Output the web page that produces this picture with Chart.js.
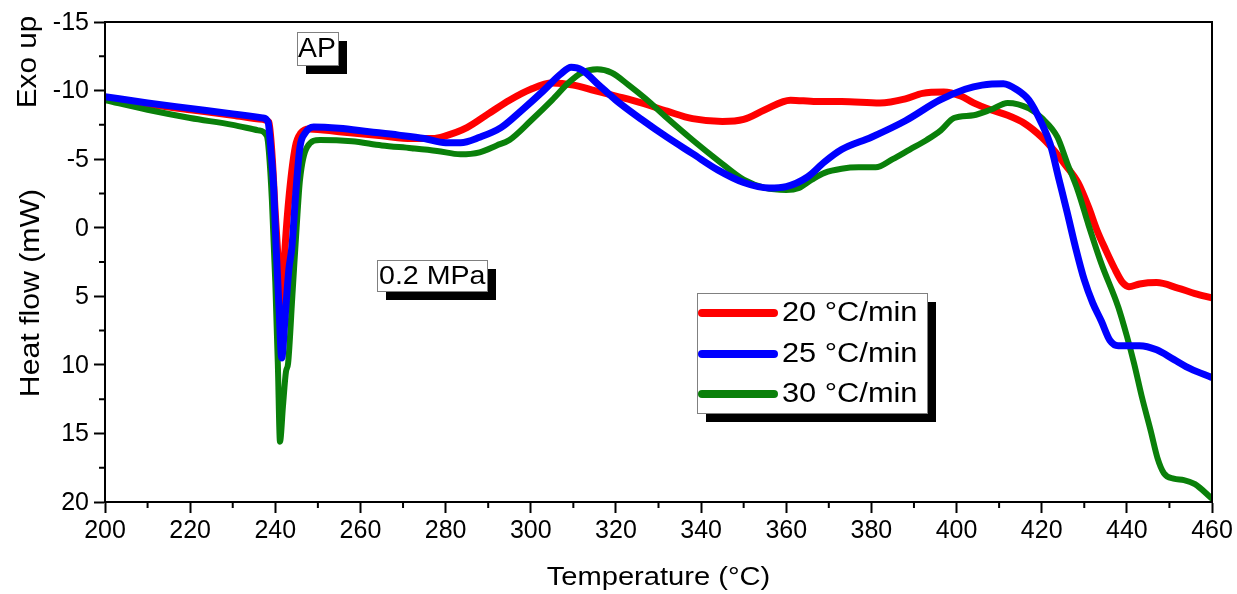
<!DOCTYPE html>
<html>
<head>
<meta charset="utf-8">
<script src="https://cdn.jsdelivr.net/npm/chart.js@4/dist/chart.umd.min.js"></script>
<style>
  body { margin: 0; background: #fff; }
  #wrap { width: 1237px; height: 594px; }
</style>
</head>
<body>
<div id="wrap"><canvas id="dsc" width="1237" height="594"></canvas></div>
<script>
// heating rates
const rateLabels = ["20 \u00b0C/min", "25 \u00b0C/min", "30 \u00b0C/min"];
const rateColors = ["#ff0000", "#0000ff", "#0a800a"];

// 20 C/min
const temp20 = [200, 210, 220, 230, 237, 238.5, 239.3, 240, 240.8, 241.5, 242.3, 243.3, 244.7, 246, 248, 255, 265, 272, 277, 280, 285, 290, 295, 300, 305, 310, 315, 320, 326, 332, 338, 345, 350, 355, 361, 367, 373, 382, 388, 392, 397, 401, 404, 408, 412, 416, 420, 423, 425.5, 428.5, 431, 433, 435, 437, 439, 440.5, 443, 447, 452, 456, 459.8];
const heat20 = [-9.5, -9.0, -8.6, -8.2, -7.9, -7.7, -5, -1, 3, 6, 1.4, -2.5, -5.9, -6.9, -7.2, -7.0, -6.7, -6.5, -6.5, -6.7, -7.3, -8.3, -9.3, -10.1, -10.55, -10.4, -10.0, -9.6, -9.1, -8.5, -7.95, -7.75, -7.9, -8.6, -9.3, -9.2, -9.2, -9.1, -9.4, -9.8, -9.9, -9.6, -9.1, -8.6, -8.2, -7.6, -6.6, -5.6, -4.6, -3.3, -1.5, 0.2, 1.6, 2.9, 4.0, 4.3, 4.1, 4.0, 4.4, 4.8, 5.1];

// 25 C/min
const temp25 = [200, 210, 220, 230, 237, 238.3, 239, 239.6, 240.2, 240.9, 241.5, 242.3, 243.2, 243.9, 244.8, 245.8, 247, 249, 255, 262, 269, 275, 280, 283.5, 288, 293, 298, 303, 307, 309.5, 312, 316, 320, 326, 332, 338, 344, 350, 356, 360, 365, 369, 373, 380, 388, 396, 402, 406, 411, 414, 417, 420, 422, 424, 426, 428, 430, 432, 434, 436, 438, 443, 447, 451, 455, 459.8];
const heat25 = [-9.55, -9.1, -8.7, -8.3, -8.0, -7.7, -5.5, -3, 1.5, 6, 9.5, 6.5, 3, 1.4, -2.5, -5.9, -6.9, -7.35, -7.25, -7.0, -6.75, -6.5, -6.2, -6.2, -6.6, -7.3, -8.6, -10.0, -11.2, -11.7, -11.5, -10.4, -9.3, -7.9, -6.6, -5.4, -4.2, -3.3, -2.9, -3.0, -3.7, -4.8, -5.7, -6.6, -7.8, -9.3, -10.1, -10.4, -10.5, -10.1, -9.3, -7.6, -6.1, -3.6, -1.1, 1.5, 3.8, 5.5, 6.8, 8.2, 8.6, 8.6, 8.9, 9.6, 10.3, 10.9];

// 30 C/min
const temp30 = [200, 210, 220, 230, 236, 238, 238.5, 239.2, 240, 240.6, 241.1, 241.8, 242.5, 243, 244, 245, 245.8, 247.5, 250.5, 258, 265, 272, 278, 283.5, 288, 292, 295, 300, 305, 309, 312, 315.6, 319, 323, 327, 332, 338, 344, 350, 355, 360, 363, 366, 369, 373, 377, 381, 385, 389, 393, 396.3, 399.4, 404, 408, 412, 417, 420, 423.7, 426, 428.5, 431, 434, 438, 440, 441.7, 443.5, 445.6, 447.2, 448.7, 451, 453.4, 456, 459.8];
const heat30 = [-9.3, -8.6, -8.0, -7.5, -7.1, -6.7, -5.5, -2, 4, 10, 15.6, 13, 10.5, 9.9, 5, 0, -3.5, -5.9, -6.4, -6.3, -6.0, -5.8, -5.6, -5.35, -5.5, -6.0, -6.4, -7.8, -9.3, -10.6, -11.3, -11.55, -11.3, -10.4, -9.4, -8.0, -6.4, -4.9, -3.5, -2.9, -2.75, -2.9, -3.5, -4.0, -4.3, -4.4, -4.4, -5.0, -5.7, -6.4, -7.1, -8.0, -8.2, -8.6, -9.1, -8.7, -8.0, -6.6, -4.7, -2.7, -0.2, 2.6, 5.8, 7.9, 9.9, 12.3, 14.8, 16.8, 17.9, 18.3, 18.4, 18.7, 19.7];

// axis ranges
const tempMin = 200, tempMax = 460, tempStep = 20;
const heatMin = -15, heatMax = 20, heatStep = 5;

function toPoints(xs, ys) {
    return xs.map((x, i) => ({ x: x, y: ys[i] }));
}

const FONT = "Arial, sans-serif";

// draws text stretched horizontally
function wideText(ctx, text, x, y, sx) {
    ctx.save();
    ctx.translate(x, y);
    ctx.scale(sx, 1);
    ctx.fillText(text, 0, 0);
    ctx.restore();
}

function shadowBox(ctx, x, y, w, h) {
    ctx.fillStyle = "#000";
    ctx.fillRect(x + 9, y + 9, w, h);
    ctx.fillStyle = "#fff";
    ctx.fillRect(x, y, w, h);
    ctx.strokeStyle = "#808080";
    ctx.lineWidth = 1;
    ctx.strokeRect(x + 0.5, y + 0.5, w, h);
}

const decorPlugin = {
    id: "decor",
    afterDraw(chart) {
        const ctx = chart.ctx;
        const a = chart.chartArea;
        const xs = chart.scales.x, ys = chart.scales.y;
        ctx.save();

        // frame
        ctx.strokeStyle = "#000";
        ctx.lineWidth = 2;
        ctx.strokeRect(a.left, a.top, a.right - a.left, a.bottom - a.top);

        // minor ticks
        ctx.beginPath();
        for (let t = tempMin + tempStep / 2; t < tempMax; t += tempStep) {
            const px = xs.getPixelForValue(t);
            ctx.moveTo(px, a.bottom);
            ctx.lineTo(px, a.bottom + 6);
        }
        for (let h = heatMin + heatStep / 2; h < heatMax; h += heatStep) {
            const py = ys.getPixelForValue(h);
            ctx.moveTo(a.left, py);
            ctx.lineTo(a.left - 6, py);
        }
        ctx.stroke();

        // tick labels, taken from the scales' own ticks
        ctx.fillStyle = "#000";
        ctx.font = "25px " + FONT;
        ctx.textBaseline = "middle";
        ctx.textAlign = "center";
        xs.ticks.forEach(t => {
            ctx.fillText(String(t.value), xs.getPixelForValue(t.value), a.bottom + 29);
        });
        ctx.textAlign = "right";
        ys.ticks.forEach(t => {
            ctx.fillText(String(t.value), a.left - 16, ys.getPixelForValue(t.value) + 1);
        });

        // axis titles
        ctx.textAlign = "left";
        ctx.font = "26px " + FONT;
        const xt = "Temperature (\u00b0C)";
        const xw = ctx.measureText(xt).width * 1.12;
        wideText(ctx, xt, (a.left + a.right) / 2 - xw / 2, 578, 1.12);

        ctx.font = "27px " + FONT;
        ctx.textAlign = "center";
        ctx.save();
        ctx.translate(29, 62);
        ctx.rotate(-Math.PI / 2);
        ctx.scale(1.1, 1);
        ctx.fillText("Exo up", 0, 0);
        ctx.restore();
        ctx.save();
        ctx.translate(32, 293);
        ctx.rotate(-Math.PI / 2);
        ctx.scale(1.12, 1);
        ctx.fillText("Heat flow (mW)", 0, 0);
        ctx.restore();
        ctx.textAlign = "left";

        // annotations
        shadowBox(ctx, 297, 32, 41, 33);
        ctx.fillStyle = "#000";
        ctx.font = "27px " + FONT;
        wideText(ctx, "AP", 298, 50, 1.05);

        shadowBox(ctx, 377, 260, 110, 31);
        ctx.fillStyle = "#000";
        ctx.font = "26px " + FONT;
        wideText(ctx, "0.2 MPa", 379, 277, 1.1);

        // legend
        shadowBox(ctx, 697, 293, 230, 120);
        const rowY = [313, 354, 394];
        rateLabels.forEach((lab, i) => {
            ctx.strokeStyle = rateColors[i];
            ctx.lineWidth = 8;
            ctx.lineCap = "round";
            ctx.beginPath();
            ctx.moveTo(702, rowY[i]);
            ctx.lineTo(774, rowY[i]);
            ctx.stroke();
            ctx.fillStyle = "#000";
            ctx.font = "27px " + FONT;
            wideText(ctx, lab, 782, rowY[i] + 1, 1.14);
        });

        ctx.restore();
    }
};

new Chart(document.getElementById("dsc"), {
    type: "line",
    data: {
        datasets: [
            {
                label: rateLabels[0],
                data: toPoints(temp20, heat20),
                borderColor: rateColors[0],
                borderWidth: 7,
                order: 2
            },
            {
                label: rateLabels[1],
                data: toPoints(temp25, heat25),
                borderColor: rateColors[1],
                borderWidth: 7,
                order: 0
            },
            {
                label: rateLabels[2],
                data: toPoints(temp30, heat30),
                borderColor: rateColors[2],
                borderWidth: 6,
                order: 1
            }
        ]
    },
    options: {
        responsive: false,
        animation: false,
        elements: {
            point: { radius: 0 },
            line: { cubicInterpolationMode: "monotone", borderCapStyle: "round", borderJoinStyle: "round" }
        },
        layout: { padding: { left: 0, top: 22, right: 25, bottom: 0 } },
        plugins: {
            legend: { display: false },
            tooltip: { enabled: false }
        },
        scales: {
            x: {
                type: "linear",
                min: tempMin,
                max: tempMax,
                ticks: { stepSize: tempStep, display: false },
                grid: {
                    drawOnChartArea: false,
                    drawTicks: true,
                    tickLength: 11,
                    tickWidth: 2,
                    tickColor: "#000"
                },
                border: { display: true, color: "#000", width: 2 },
                afterFit: s => { s.height = 92; }
            },
            y: {
                type: "linear",
                reverse: true,
                min: heatMin,
                max: heatMax,
                ticks: { stepSize: heatStep, display: false },
                grid: {
                    drawOnChartArea: false,
                    drawTicks: true,
                    tickLength: 11,
                    tickWidth: 2,
                    tickColor: "#000"
                },
                border: { display: true, color: "#000", width: 2 },
                afterFit: s => { s.width = 105; }
            }
        }
    },
    plugins: [decorPlugin]
});
</script>
</body>
</html>
